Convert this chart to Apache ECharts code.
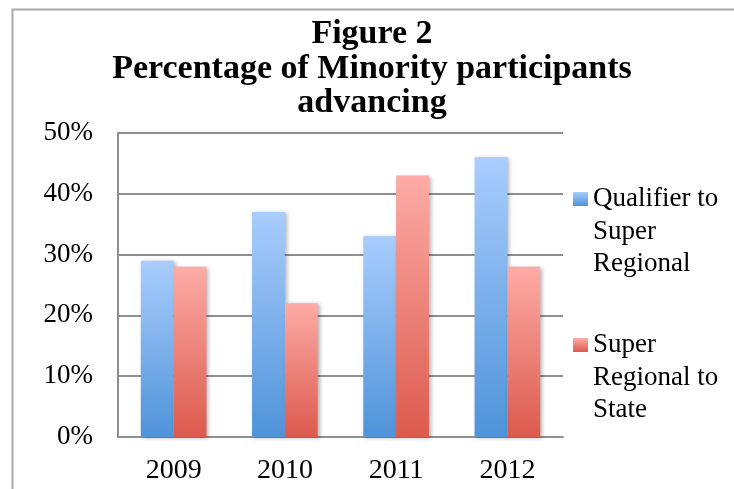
<!DOCTYPE html>
<html><head><meta charset="utf-8">
<script src="https://cdn.jsdelivr.net/npm/echarts@6/dist/echarts.min.js"></script>
<style>html,body{margin:0;padding:0;background:#fff}#c{width:734px;height:489px}</style>
</head><body><div id="c"></div>
<script>
const categories = ['2009', '2010', '2011', '2012'];
const qualifierToSuperRegional = [29, 37, 33, 46];
const superRegionalToState = [28, 22, 43, 28];
const seriesNames = ['Qualifier to\nSuper\nRegional', 'Super\nRegional to\nState'];
const titleText = 'Figure 2\nPercentage of Minority participants\nadvancing';

const FONT = 'Liberation Serif';
function grad(top, bottom) {
  return {type: 'linear', x: 0, y: 0, x2: 0, y2: 1,
    colorStops: [{offset: 0, color: top}, {offset: 1, color: bottom}]};
}
const blue = grad('#a9cdfd', '#4f93d9');
const red = grad('#fdaba6', '#dc5a4d');
const LH = 32.5;
function legendFor(idx, firstLineCenter, color) {
  return {
    orient: 'vertical', left: 573, top: firstLineCenter - LH * 2.5, padding: 0,
    itemWidth: 15, itemHeight: 14, itemGap: 0, icon: 'rect',
    // two blank lines above so the marker lines up with the first text line
    formatter: function (name) { return ' \n \n' + name; },
    textStyle: {fontFamily: FONT, fontSize: 27, lineHeight: LH, color: '#000'},
    data: [{name: seriesNames[idx], itemStyle: {color: color}}]
  };
}
const chart = echarts.init(document.getElementById('c'), null, {renderer: 'canvas'});
chart.setOption({
  animation: false,
  backgroundColor: '#fff',
  graphic: [{
    type: 'rect', left: 10, top: 7, shape: {x: 0, y: 0, width: 740, height: 500},
    style: {fill: 'none', stroke: '#aaaaaa', lineWidth: 2}, silent: true
  }],
  title: {
    text: titleText, left: 367, top: 12, textAlign: 'center',
    textStyle: {fontFamily: FONT, fontWeight: 'bold', fontSize: 34, lineHeight: 34.5, color: '#000'}
  },
  legend: [
    legendFor(0, 199, blue),
    legendFor(1, 345, red)
  ],
  grid: {left: 118, right: 171, top: 133, bottom: 52},
  xAxis: {
    type: 'category', data: categories,
    axisLine: {lineStyle: {color: '#8f8f8f', width: 2}},
    axisTick: {show: false},
    axisLabel: {fontFamily: FONT, fontSize: 28, color: '#000', margin: 20}
  },
  yAxis: {
    type: 'value', min: 0, max: 50, interval: 10,
    axisLine: {show: true, lineStyle: {color: '#8f8f8f', width: 2}},
    axisTick: {show: false},
    splitLine: {lineStyle: {color: '#8f8f8f', width: 2}},
    axisLabel: {fontFamily: FONT, fontSize: 27, color: '#000', margin: 25, formatter: '{value}%'}
  },
  series: [
    {name: seriesNames[0], type: 'bar', data: qualifierToSuperRegional, barGap: '0%', barCategoryGap: '41%',
     itemStyle: {color: blue, shadowBlur: 4, shadowColor: 'rgba(0,0,0,0.3)', shadowOffsetX: 2, shadowOffsetY: 1}},
    {name: seriesNames[1], type: 'bar', data: superRegionalToState, barGap: '0%', barCategoryGap: '41%',
     itemStyle: {color: red, shadowBlur: 4, shadowColor: 'rgba(0,0,0,0.3)', shadowOffsetX: 2, shadowOffsetY: 1}}
  ]
});
</script></body></html>
